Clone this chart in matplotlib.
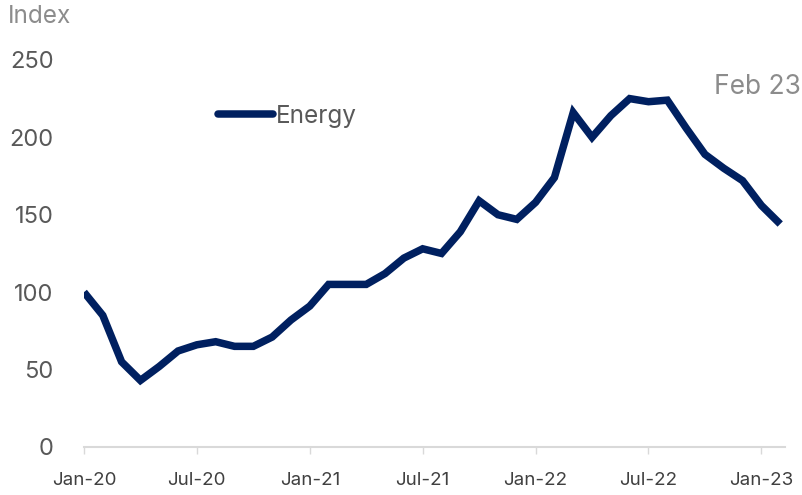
import matplotlib.pyplot as plt
import pandas as pd

# Monthly energy price index, Jan 2020 = 100
months = pd.date_range("2020-01-01", "2023-02-01", freq="MS")
energy = [100, 85, 55, 43, 52, 62, 66, 68, 65, 65, 71, 82,
          91, 105, 105, 105, 112, 122, 128, 125, 139, 159, 150, 147,
          158, 174, 216, 200, 214, 225, 223, 224, 206, 189, 180, 172,
          156, 144]
tick_labels = ["Jan-20", "Jul-20", "Jan-21", "Jul-21", "Jan-22", "Jul-22", "Jan-23"]
y_ticks = [0, 50, 100, 150, 200, 250]

NAVY = "#002060"
plt.rcParams["font.family"] = ["Inter", "DejaVu Sans"]

fig = plt.figure(figsize=(8.02, 4.95), dpi=100)
ax = fig.add_axes([0.1047, 0.097, 0.874, 0.782])

x = list(range(len(months)))
line, = ax.plot(x, energy, color=NAVY, lw=5.4, solid_joinstyle="miter",
                solid_capstyle="butt", label="Energy")

ax.set_xlim(0, 37.25)
ax.set_ylim(0, 250)
ax.set_yticks(y_ticks)
ax.set_yticklabels([str(v) for v in y_ticks], fontsize=17, color="#595959")
ax.tick_params(axis="y", length=0, pad=22)

tick_pos = [months.get_loc(pd.Timestamp(t)) for t in
            ["2020-01-01", "2020-07-01", "2021-01-01", "2021-07-01",
             "2022-01-01", "2022-07-01", "2023-01-01"]]
ax.set_xticks(tick_pos)
ax.set_xticklabels(tick_labels, fontsize=13.5, color="#404040")
ax.tick_params(axis="x", length=5, width=1, color="#d9d9d9", pad=13)

for side in ["top", "right", "left"]:
    ax.spines[side].set_visible(False)
ax.spines["bottom"].set_color("#d9d9d9")
ax.spines["bottom"].set_linewidth(1.5)

fig.text(0.01, 0.966, "Index", fontsize=17.5, color="#8c8c8c", va="center", ha="left")
fig.text(0.998, 0.824, "Feb 23", fontsize=19, color="#8c8c8c", va="center", ha="right")

leg = ax.legend(handles=[line], loc="center left", bbox_to_anchor=(0.178, 0.855),
                frameon=False, fontsize=17.5, handlelength=2.25, handletextpad=0.12,
                borderaxespad=0)
for t in leg.get_texts():
    t.set_color("#595959")
for h in leg.legend_handles:
    h.set_solid_capstyle("round")

fig.savefig("out.png", dpi=100)
